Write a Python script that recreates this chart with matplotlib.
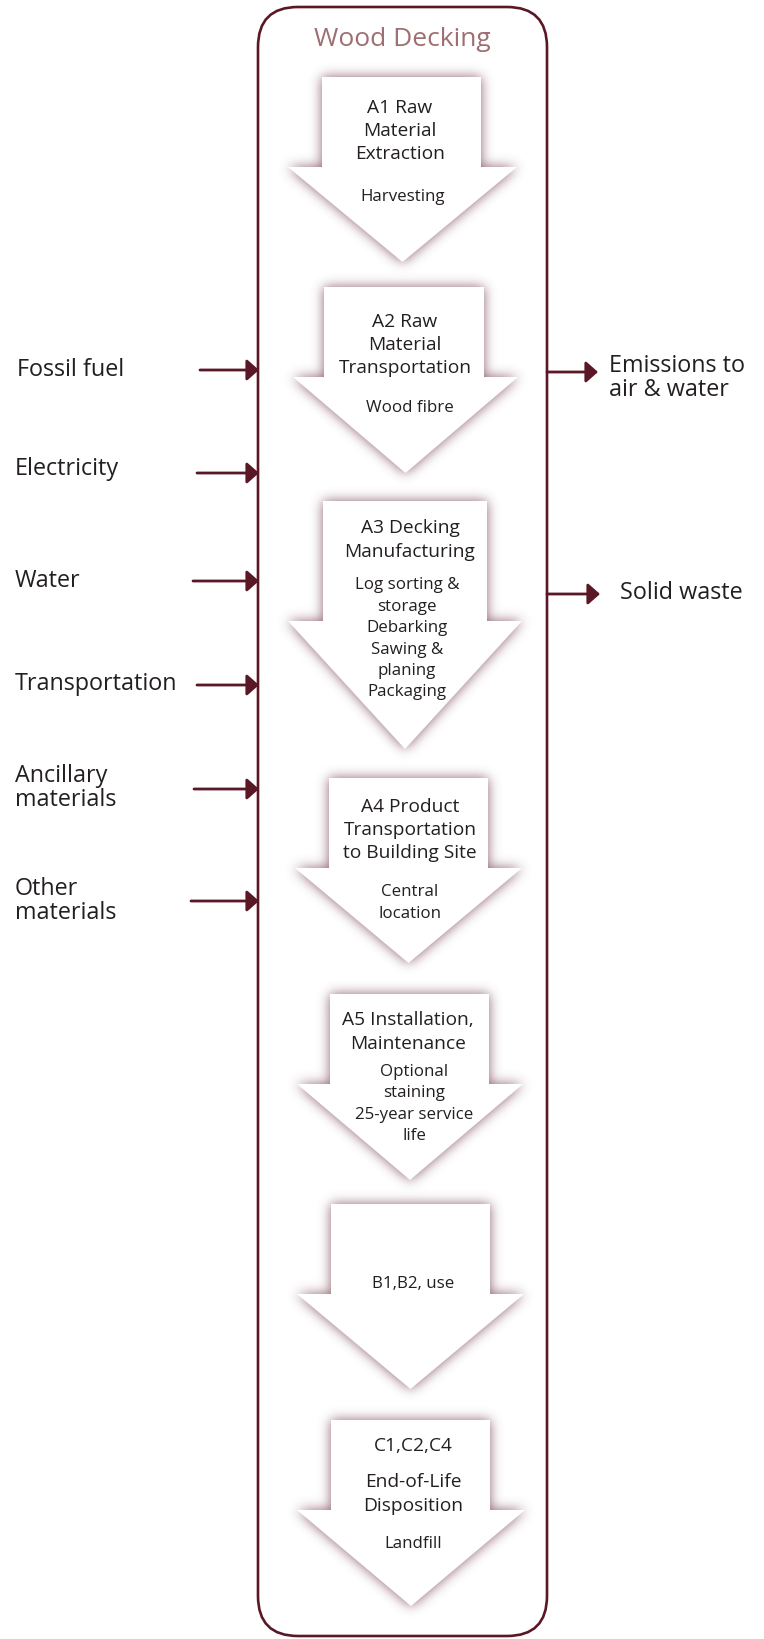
"""
Wood Decking life-cycle flow diagram (system boundary with inputs/outputs).
Output: out.png (764 x 1640 px)
"""

import numpy as np
import matplotlib
matplotlib.use("Agg")
import matplotlib.pyplot as plt
from matplotlib.patches import Polygon, FancyBboxPatch
from matplotlib.path import Path

plt.rcParams["font.family"] = ["Open Sans", "DejaVu Sans"]

# ---- content ----
TITLE = "Wood Decking"
stage_titles = [
    "A1 Raw\nMaterial\nExtraction",
    "A2 Raw\nMaterial\nTransportation",
    "A3 Decking\nManufacturing",
    "A4 Product\nTransportation\nto Building Site",
    "A5 Installation,\nMaintenance",
    "",
    "End-of-Life\nDisposition",
]
stage_codes = ["", "", "", "", "", "", "C1,C2,C4"]
stage_details = [
    "Harvesting",
    "Wood fibre",
    "Log sorting &\nstorage\nDebarking\nSawing &\nplaning\nPackaging",
    "Central\nlocation",
    "Optional\nstaining\n25-year service\nlife",
    "B1,B2, use",
    "Landfill",
]
input_labels = ["Fossil fuel", "Electricity", "Water", "Transportation",
                "Ancillary\nmaterials", "Other\nmaterials"]
output_labels = ["Emissions to\nair & water", "Solid waste"]

# ---- layout (pixel coords, y down) ----
arrow_top = [78, 288, 502, 779, 995, 1205, 1421]
arrow_shoulder = [168, 378, 622, 869, 1085, 1295, 1511]
arrow_tip = [263, 474, 750, 964, 1181, 1390, 1607]
rect_left = [322, 324, 323, 329, 330, 331, 331]
rect_right = [481, 484, 487, 488, 489, 490, 490]
head_left = [288, 293, 288, 295, 297, 297, 297]
head_right = [517, 518, 522, 522, 523, 524, 525]
title_xy = [(400, 131), (405, 345), (410, 540), (410, 830), (408, 1032), (0, 0), (413, 1494)]
code_xy = [None] * 6 + [(413, 1446)]
detail_xy = [(403, 197), (410, 408), (407, 639), (410, 903), (414, 1104), (413, 1284), (413, 1544)]

in_text_xy = [(17, 370), (15, 469), (15, 581), (15, 684), (15, 788), (15, 901)]
in_arrow = [(200, 371), (197, 474), (193, 582), (197, 686), (194, 790), (191, 902)]
out_text_xy = [(609, 378), (620, 593)]
out_arrow = [(598, 373), (600, 595)]

BOX_L, BOX_R, BOX_T, BOX_B = 258, 547, 8, 1637
W, H = 764, 1640

MAROON = "#5a1726"
TXT = "#231f20"
TITLE_C = "#9e6e71"


def arrow_verts(i):
    cx = (head_left[i] + head_right[i]) / 2
    return [
        (rect_left[i], arrow_top[i]),
        (rect_right[i], arrow_top[i]),
        (rect_right[i], arrow_shoulder[i]),
        (head_right[i], arrow_shoulder[i]),
        (cx, arrow_tip[i]),
        (head_left[i], arrow_shoulder[i]),
        (rect_left[i], arrow_shoulder[i]),
    ]


def blur(a, sigma):
    r = int(3 * sigma)
    k = np.exp(-0.5 * (np.arange(-r, r + 1) / sigma) ** 2)
    k /= k.sum()
    a = np.apply_along_axis(lambda v: np.convolve(v, k, mode="same"), 0, a)
    a = np.apply_along_axis(lambda v: np.convolve(v, k, mode="same"), 1, a)
    return a


fig = plt.figure(figsize=(W / 100, H / 100), dpi=100)
ax = fig.add_axes([0, 0, 1, 1])
ax.set_xlim(0, W)
ax.set_ylim(H, 0)
ax.axis("off")

# soft shadow behind the stage arrows
yy, xx = np.mgrid[0:H, 0:W]
pts = np.column_stack([xx.ravel() + 0.5, yy.ravel() + 0.5])
mask = np.zeros(H * W)
for i in range(len(stage_titles)):
    mask = np.maximum(mask, Path(arrow_verts(i)).contains_points(pts))
mask = mask.reshape(H, W)
glow = blur(mask, 6)
rgba = np.zeros((H, W, 4))
rgba[..., 0], rgba[..., 1], rgba[..., 2] = 0.47, 0.27, 0.32
rgba[..., 3] = np.clip(glow * 0.85, 0, 1)
ax.imshow(rgba, extent=(0, W, H, 0), zorder=1, interpolation="bilinear")

# system boundary
box = FancyBboxPatch((BOX_L, BOX_T), BOX_R - BOX_L, BOX_B - BOX_T,
                     boxstyle="round,pad=0,rounding_size=40",
                     fc="none", ec=MAROON, lw=1.9, zorder=3)
ax.add_patch(box)
ax.text((BOX_L + BOX_R) / 2, 40, TITLE, ha="center", va="center",
        fontsize=19, color=TITLE_C, zorder=5)

# stage arrows + text
for i in range(len(stage_titles)):
    ax.add_patch(Polygon(arrow_verts(i), closed=True, fc="white", ec="none", zorder=2))
    if stage_titles[i]:
        ax.text(*title_xy[i], stage_titles[i], ha="center", va="center",
                fontsize=13.8, color=TXT, linespacing=1.36, zorder=5)
    if stage_codes[i]:
        ax.text(*code_xy[i], stage_codes[i], ha="center", va="center",
                fontsize=13.8, color=TXT, zorder=5)
    ax.text(*detail_xy[i], stage_details[i], ha="center", va="center",
            fontsize=12.2, color=TXT, linespacing=1.45, zorder=5)

astyle = dict(arrowstyle="-|>,head_length=0.52,head_width=0.46",
              color=MAROON, lw=2.0, mutation_scale=14,
              shrinkA=0, shrinkB=0)

# inputs
for label, (tx, ty), (ax0, ay) in zip(input_labels, in_text_xy, in_arrow):
    ax.text(tx, ty, label, ha="left", va="center", fontsize=16.8,
            color=TXT, linespacing=1.0, zorder=5)
    ax.annotate("", xy=(BOX_L + 1, ay), xytext=(ax0, ay), arrowprops=astyle, zorder=4)

# outputs
for label, (tx, ty), (ax1, ay) in zip(output_labels, out_text_xy, out_arrow):
    ax.text(tx, ty, label, ha="left", va="center", fontsize=16.8,
            color=TXT, linespacing=1.0, zorder=5)
    ax.annotate("", xy=(ax1, ay), xytext=(BOX_R, ay), arrowprops=astyle, zorder=4)

fig.savefig("out.png", dpi=100)
plt.close(fig)
